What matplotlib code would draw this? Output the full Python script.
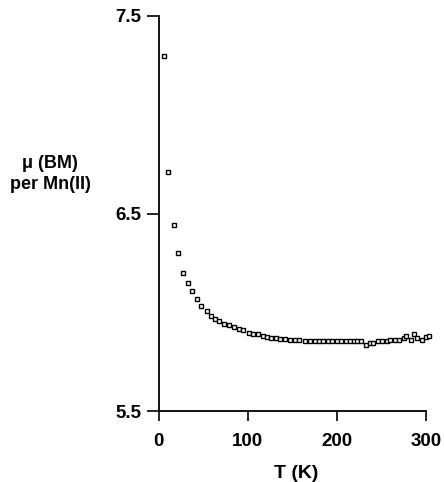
import matplotlib
matplotlib.use("Agg")
import matplotlib.pyplot as plt

plt.rcParams['font.family'] = ['Liberation Sans', 'DejaVu Sans']
plt.rcParams['font.weight'] = 'bold'

# temperature (K) and effective moment per Mn(II)
temp = [6, 11, 17, 22, 28, 33, 38, 43, 48, 54, 59, 63, 68, 74, 79, 85, 90, 95,
        101, 106, 112, 117, 122, 126, 132, 136, 142, 147, 153, 158, 164, 170,
        175, 180, 185, 190, 195, 200, 205, 210, 215, 219, 223, 227, 233, 237,
        241, 246, 251, 256, 260, 265, 270, 275, 278, 283, 286, 290, 295, 300, 303]
mu = [7.30, 6.71, 6.44, 6.30, 6.20, 6.15, 6.106, 6.065, 6.033, 6.004, 5.982,
      5.968, 5.955, 5.943, 5.933, 5.924, 5.916, 5.908, 5.897, 5.892, 5.889,
      5.881, 5.875, 5.869, 5.869, 5.867, 5.864, 5.862, 5.859, 5.859, 5.853,
      5.852, 5.852, 5.852, 5.853, 5.853, 5.852, 5.855, 5.855, 5.855, 5.853,
      5.855, 5.852, 5.853, 5.836, 5.842, 5.845, 5.855, 5.855, 5.855, 5.858,
      5.862, 5.858, 5.872, 5.882, 5.862, 5.892, 5.870, 5.862, 5.875, 5.882]

x_ticks = [0, 100, 200, 300]
y_ticks = [5.5, 6.5, 7.5]

fig = plt.figure(figsize=(4.44, 4.82), dpi=100)
ax = fig.add_axes([158.5 / 444, (482 - 411) / 482, (426 - 158.5) / 444, (411 - 16) / 482])

ax.plot(temp, mu, linestyle='none', marker='s', markersize=3.5,
        markerfacecolor='white', markeredgecolor='black', markeredgewidth=1.0,
        clip_on=False)

ax.set_xlim(0, 300)
ax.set_ylim(5.5, 7.5)
ax.set_xticks(x_ticks)
ax.set_yticks(y_ticks)
ax.set_yticklabels(['5.5', '6.5', '7.5'])

for side in ['top', 'right']:
    ax.spines[side].set_visible(False)
for side in ['left', 'bottom']:
    ax.spines[side].set_linewidth(1.3)

ax.tick_params(axis='y', direction='out', length=8.5, width=1.2, pad=4, labelsize=13.5)
ax.tick_params(axis='x', direction='out', length=7, width=1.2, pad=9, labelsize=13.5)
for lab in ax.get_xticklabels() + ax.get_yticklabels():
    lab.set_fontweight('bold')

fig.text(50 / 444, 1 - 174 / 482, 'μ (BM)\nper Mn(II)', ha='center', va='center',
         fontsize=13, fontweight='bold', linespacing=1.3)
fig.text(296 / 444, 1 - 474 / 482, 'T (K)', ha='center', va='center',
         fontsize=14, fontweight='bold')

fig.savefig('out.png', dpi=100)
